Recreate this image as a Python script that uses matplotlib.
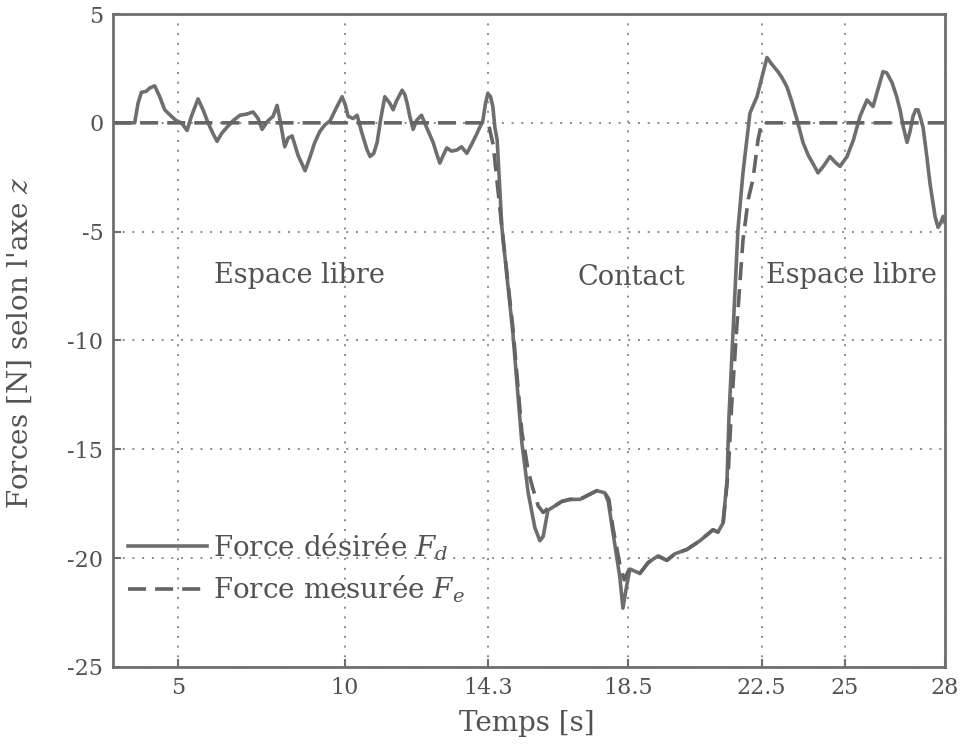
import matplotlib
matplotlib.use("Agg")
import matplotlib.pyplot as plt

plt.rcParams['font.family'] = ['DejaVu Serif']
plt.rcParams['mathtext.fontset'] = 'dejavuserif'
plt.rcParams['axes.unicode_minus'] = False

# Force désirée (solid)
t_d = [3.05, 3.7, 3.8, 3.9, 4.05, 4.15, 4.3, 4.45, 4.6, 4.8, 4.95, 5.1, 5.27, 5.4, 5.6, 5.75, 5.9,
       6.05, 6.17, 6.3, 6.47, 6.65, 6.86, 7.05, 7.25, 7.4, 7.52, 7.7, 7.85, 7.97, 8.05, 8.2, 8.3,
       8.42, 8.6, 8.81, 8.95, 9.1, 9.25, 9.4, 9.56, 9.75, 9.92, 10.02, 10.1, 10.25, 10.37, 10.5,
       10.67, 10.76, 10.87, 10.97, 11.08, 11.2, 11.35, 11.45, 11.55, 11.72, 11.8, 11.87, 11.95,
       12.05, 12.15, 12.3, 12.45, 12.65, 12.75, 12.85, 12.95, 13.06, 13.2, 13.36, 13.5, 13.66,
       13.8, 13.96, 14.14, 14.22, 14.29, 14.37, 14.44, 14.5, 14.57, 14.71, 15.04, 15.31, 15.5,
       15.7, 15.85, 15.95, 16.09, 16.3, 16.5, 16.75, 17.05, 17.3, 17.56, 17.8, 17.9, 18.04, 18.25,
       18.34, 18.45, 18.55, 18.85, 19.1, 19.39, 19.66, 19.9, 20.26, 20.65, 21.04, 21.19, 21.34,
       21.46, 21.52, 21.64, 21.79, 21.94, 22.15, 22.36, 22.66, 22.8, 22.99, 23.1, 23.26, 23.4,
       23.56, 23.74, 23.9, 24.05, 24.19, 24.35, 24.55, 24.7, 24.85, 25.06, 25.25, 25.45, 25.66,
       25.84, 26.0, 26.14, 26.25, 26.41, 26.55, 26.65, 26.75, 26.86, 26.95, 27.04, 27.12, 27.19,
       27.27, 27.34, 27.45, 27.55, 27.61, 27.7, 27.79, 27.87, 27.94, 28.0]
f_d = [0, 0, 0.9, 1.4, 1.45, 1.6, 1.7, 1.2, 0.6, 0.3, 0.1, 0.0, -0.35, 0.3, 1.1, 0.6, 0.0,
       -0.5, -0.85, -0.5, -0.2, 0.1, 0.35, 0.4, 0.5, 0.2, -0.3, 0.1, 0.3, 0.8, 0.2, -1.1, -0.7,
       -0.6, -1.5, -2.2, -1.6, -0.9, -0.4, -0.1, 0.1, 0.7, 1.2, 0.8, 0.3, 0.2, 0.35, -0.4,
       -1.25, -1.55, -1.4, -0.9, 0.2, 1.2, 0.9, 0.6, 1.0, 1.5, 1.3, 0.9, 0.3,
       -0.3, 0.1, 0.35, -0.2, -0.9, -1.4, -1.85, -1.5, -1.15, -1.3, -1.25, -1.1, -1.4,
       -1.0, -0.5, 0.1, 0.9, 1.35, 1.2, 0.75, -0.2, -0.8, -4.8, -9.65, -14.7, -17.0,
       -18.6, -19.2, -19.0, -17.8, -17.6, -17.4, -17.3, -17.3, -17.1, -16.9, -17.0, -17.4, -18.8, -20.9,
       -22.3, -21.3, -20.5, -20.7, -20.2, -19.9, -20.1, -19.8, -19.6, -19.2, -18.7, -18.8, -18.4,
       -16.5, -13.5, -9.65, -4.9, -2.3, 0.45, 1.2, 3.0, 2.7, 2.35, 2.1, 1.65, 1.0,
       0.15, -0.9, -1.5, -1.9, -2.3, -2.0, -1.55, -1.8, -2.0, -1.55, -0.8, 0.3, 1.05,
       0.75, 1.6, 2.35, 2.3, 1.85, 1.2, 0.6, -0.2, -0.9, -0.4, 0.3, 0.6, 0.6,
       0.2, -0.2, -1.5, -2.8, -3.4, -4.3, -4.8, -4.6, -4.3, -4.6]

# Force mesurée (dashed)
t_e = [3.05, 14.3, 14.45, 14.71, 15.04, 15.31, 15.5, 15.64, 15.8, 15.95, 16.1, 16.3, 16.5, 16.75,
       17.05, 17.3, 17.56, 17.8, 17.92, 18.04, 18.25, 18.38, 18.5, 18.85, 19.1, 19.39, 19.66,
       19.9, 20.26, 20.65, 21.04, 21.19, 21.34, 21.5, 21.6, 21.75, 21.94, 22.1, 22.24, 22.39,
       22.5, 28.0]
f_e = [0, 0, -1.0, -4.8, -9.4, -14.2, -16.0, -16.8, -17.6, -17.9, -17.7, -17.6, -17.4, -17.3,
       -17.3, -17.1, -16.9, -17.0, -17.3, -18.6, -20.3, -21.0, -20.6, -20.7, -20.2, -19.9, -20.1,
       -19.8, -19.6, -19.2, -18.7, -18.8, -18.5, -16.0, -13.0, -9.5, -5.4, -3.5, -2.6, -0.8,
       0, 0]

xticks = [5, 10, 14.3, 18.5, 22.5, 25, 28]
xticklabels = ['5', '10', '14.3', '18.5', '22.5', '25', '28']
yticks = [-25, -20, -15, -10, -5, 0, 5]
yticklabels = ['-25', '-20', '-15', '-10', '-5', '0', '5']

gray = '#6e6e6e'
tcol = '#525252'

fig = plt.figure(figsize=(9.61, 7.49), dpi=100)
ax = fig.add_axes([0.1176, 0.1095, 0.8658, 0.8718])

ax.plot(t_d, f_d, color=gray, lw=2.6, label='Force désirée $F_d$', solid_joinstyle='round')
ax.plot(t_e, f_e, color='#646464', lw=2.6, dashes=(5, 2.5), label='Force mesurée $F_e$')

ax.set_xlim(3.05, 28)
ax.set_ylim(-25, 5)
ax.set_xticks(xticks)
ax.set_xticklabels(xticklabels)
ax.set_yticks(yticks)
ax.set_yticklabels(yticklabels)
ax.tick_params(direction='in', length=6, width=1.5, colors=gray, labelcolor=tcol,
               labelsize=16, pad=7)
ax.grid(True, linestyle=(0, (1, 4)), color='#8a8a8a', lw=1.4)
for s in ax.spines.values():
    s.set_color(gray)
    s.set_linewidth(2)

ax.set_xlabel('Temps [s]', fontsize=20, color=tcol)
ax.xaxis.set_label_coords(0.497, -0.066)
ax.xaxis.label.set_va('top')
ax.set_ylabel("Forces [N] selon l'axe $z$", fontsize=20, color=tcol)
ax.yaxis.set_label_coords(-0.095, 0.496)

ax.text(8.65, -7.0, 'Espace libre', fontsize=19.5, color=tcol, ha='center', va='center')
ax.text(18.6, -7.1, 'Contact', fontsize=19.5, color=tcol, ha='center', va='center')
ax.text(25.2, -7.0, 'Espace libre', fontsize=19.5, color=tcol, ha='center', va='center')

leg = ax.legend(loc='upper left', bbox_to_anchor=(-0.005, 0.238), frameon=False, fontsize=20,
                handlelength=2.85, handletextpad=0.2, labelspacing=0.4, borderaxespad=0.3)
for t in leg.get_texts():
    t.set_color(tcol)

fig.savefig('out.png', dpi=100)
